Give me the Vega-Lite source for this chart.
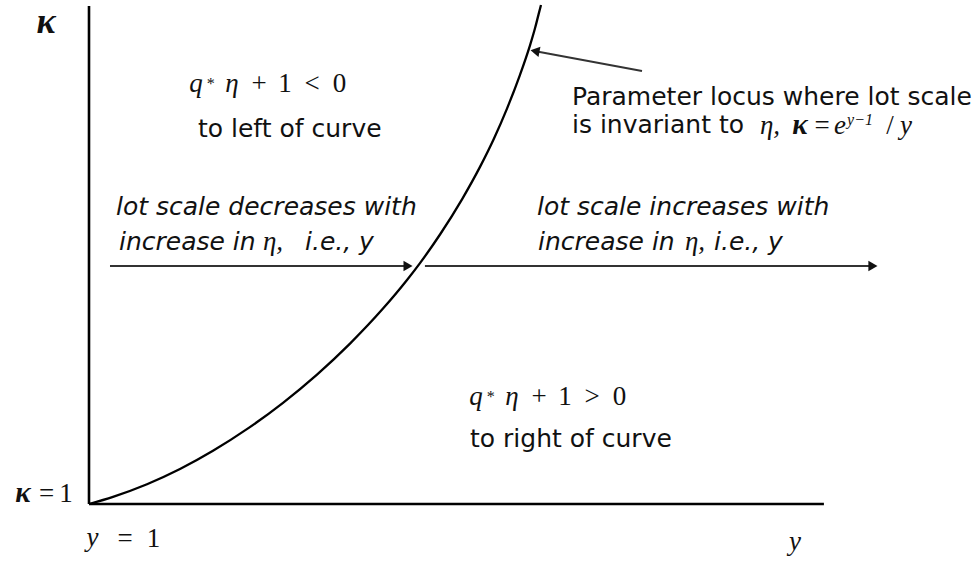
{
  "$schema": "https://vega.github.io/schema/vega-lite/v6.json",
  "width": 979,
  "height": 565,
  "padding": 0,
  "autosize": "none",
  "background": "white",
  "config": {"view": {"stroke": null}},
  "encoding": {
    "x": {"field": "x", "type": "quantitative", "scale": {"domain": [0.531579, 5.684211], "nice": false, "zero": false}, "axis": null},
    "y": {"field": "k", "type": "quantitative", "scale": {"domain": [0.39, 6.04], "nice": false, "zero": false}, "axis": null}
  },
  "layer": [
    {
      "data": {"values": [
        {"x": 1, "k": 1, "x2": 1, "k2": 5.98},
        {"x": 1, "k": 1, "x2": 4.868, "k2": 1}
      ]},
      "mark": {"type": "rule", "color": "#000", "strokeWidth": 2.6},
      "encoding": {"x2": {"field": "x2"}, "y2": {"field": "k2"}}
    },
    {
      "data": {"values": [
        {"x": 1.1105, "k": 3.38, "x2": 2.679, "k2": 3.38},
        {"x": 2.768, "k": 3.38, "x2": 5.126, "k2": 3.38},
        {"x": 3.9105, "k": 5.33, "x2": 3.3579, "k2": 5.525}
      ]},
      "mark": {"type": "rule", "color": "#333", "strokeWidth": 1.8},
      "encoding": {"x2": {"field": "x2"}, "y2": {"field": "k2"}}
    },
    {
      "data": {"values": [
        {"x": 2.679, "k": 3.38},
        {"x": 5.126, "k": 3.38}
      ]},
      "mark": {"type": "point", "shape": "triangle-right", "filled": true, "color": "#111", "size": 110, "opacity": 1}
    },
    {
      "data": {"values": [
        {"x": 3.3474, "k": 5.53}
      ]},
      "mark": {"type": "point", "shape": "triangle-left", "filled": true, "color": "#111", "size": 110, "angle": 11, "opacity": 1}
    },
    {
      "data": {"values": [
        {"x": 1.0, "k": 1.0},
        {"x": 1.1263, "k": 1.072},
        {"x": 1.3053, "k": 1.198},
        {"x": 1.4789, "k": 1.350},
        {"x": 1.6526, "k": 1.532},
        {"x": 1.8368, "k": 1.756},
        {"x": 2.0211, "k": 2.012},
        {"x": 2.2, "k": 2.294},
        {"x": 2.3737, "k": 2.604},
        {"x": 2.5474, "k": 2.954},
        {"x": 2.6737, "k": 3.24},
        {"x": 2.7421, "k": 3.409},
        {"x": 2.8474, "k": 3.695},
        {"x": 2.9632, "k": 4.047},
        {"x": 3.0579, "k": 4.371},
        {"x": 3.1316, "k": 4.655},
        {"x": 3.2, "k": 4.954},
        {"x": 3.2684, "k": 5.292},
        {"x": 3.3211, "k": 5.587},
        {"x": 3.3474, "k": 5.757},
        {"x": 3.3658, "k": 5.894},
        {"x": 3.3789, "k": 5.99}
      ]},
      "mark": {"type": "line", "color": "#000", "strokeWidth": 2.3, "interpolate": "monotone"}
    },
    {
      "data": {"values": [
        {"x": 1.5737, "k": 4.67, "t": "to left of curve"},
        {"x": 3.5421, "k": 4.99, "t": "Parameter locus where lot scale"},
        {"x": 3.5421, "k": 4.71, "t": "is invariant to"},
        {"x": 3.0053, "k": 1.57, "t": "to right of curve"}
      ]},
      "mark": {"type": "text", "font": "DejaVu Sans", "fontSize": 25, "align": "left", "baseline": "alphabetic", "color": "#111"},
      "encoding": {"text": {"field": "t"}}
    },
    {
      "data": {"values": [
        {"x": 1.1421, "k": 3.89, "t": "lot scale decreases with"},
        {"x": 1.1579, "k": 3.54, "t": "increase in"},
        {"x": 2.1368, "k": 3.54, "t": "i.e., y"},
        {"x": 3.3579, "k": 3.89, "t": "lot scale increases with"},
        {"x": 3.3632, "k": 3.54, "t": "increase in"},
        {"x": 4.2895, "k": 3.54, "t": "i.e., y"}
      ]},
      "mark": {"type": "text", "font": "DejaVu Sans", "fontStyle": "italic", "fontSize": 25, "align": "left", "baseline": "alphabetic", "color": "#111"},
      "encoding": {"text": {"field": "t"}}
    },
    {
      "data": {"values": [
        {"x": 1.5632, "k": 5.12, "t": "q"},
        {"x": 1.7526, "k": 5.12, "t": "η"},
        {"x": 3.0368, "k": 1.99, "t": "q"},
        {"x": 3.2263, "k": 1.99, "t": "η"},
        {"x": 1.0184, "k": 0.58, "t": "y"},
        {"x": 4.7158, "k": 0.54, "t": "y"},
        {"x": 1.9684, "k": 3.54, "t": "η,"},
        {"x": 4.1895, "k": 3.54, "t": "η,"},
        {"x": 4.5842, "k": 4.70, "t": "η,"},
        {"x": 4.9526, "k": 4.70, "t": "e"},
        {"x": 5.3, "k": 4.70, "t": "y"}
      ]},
      "mark": {"type": "text", "font": "Liberation Serif", "fontStyle": "italic", "fontSize": 27, "align": "center", "baseline": "alphabetic", "color": "#111"},
      "encoding": {"text": {"field": "t"}}
    },
    {
      "data": {"values": [
        {"x": 0.6526, "k": 1.02, "t": "κ"},
        {"x": 4.7421, "k": 4.70, "t": "κ"}
      ]},
      "mark": {"type": "text", "font": "Liberation Serif", "fontStyle": "italic", "fontWeight": "bold", "fontSize": 29, "align": "center", "baseline": "alphabetic", "color": "#111"},
      "encoding": {"text": {"field": "t"}}
    },
    {
      "data": {"values": [
        {"x": 1.8947, "k": 5.12, "t": "+"},
        {"x": 2.0316, "k": 5.12, "t": "1"},
        {"x": 2.1737, "k": 5.12, "t": "<"},
        {"x": 2.3184, "k": 5.12, "t": "0"},
        {"x": 3.3684, "k": 1.99, "t": "+"},
        {"x": 3.5053, "k": 1.99, "t": "1"},
        {"x": 3.6474, "k": 1.99, "t": ">"},
        {"x": 3.7921, "k": 1.99, "t": "0"},
        {"x": 0.7763, "k": 1.02, "t": "="},
        {"x": 0.8789, "k": 1.02, "t": "1"},
        {"x": 1.1895, "k": 0.57, "t": "="},
        {"x": 1.3395, "k": 0.57, "t": "1"},
        {"x": 4.8579, "k": 4.70, "t": "="},
        {"x": 5.2158, "k": 4.70, "t": "/"}
      ]},
      "mark": {"type": "text", "font": "Liberation Serif", "fontSize": 27, "align": "center", "baseline": "alphabetic", "color": "#111"},
      "encoding": {"text": {"field": "t"}}
    },
    {
      "data": {"values": [
        {"x": 1.6368, "k": 5.15, "t": "*"},
        {"x": 3.1105, "k": 2.02, "t": "*"},
        {"x": 5.0579, "k": 4.79, "t": "y−1"}
      ]},
      "mark": {"type": "text", "font": "Liberation Serif", "fontStyle": "italic", "fontSize": 16, "align": "center", "baseline": "alphabetic", "color": "#111"},
      "encoding": {"text": {"field": "t"}}
    },
    {
      "data": {"values": [
        {"x": 0.7737, "k": 5.71, "t": "κ"}
      ]},
      "mark": {"type": "text", "font": "Liberation Serif", "fontStyle": "italic", "fontWeight": "bold", "fontSize": 36, "align": "center", "baseline": "alphabetic", "color": "#111"},
      "encoding": {"text": {"field": "t"}}
    }
  ]
}
